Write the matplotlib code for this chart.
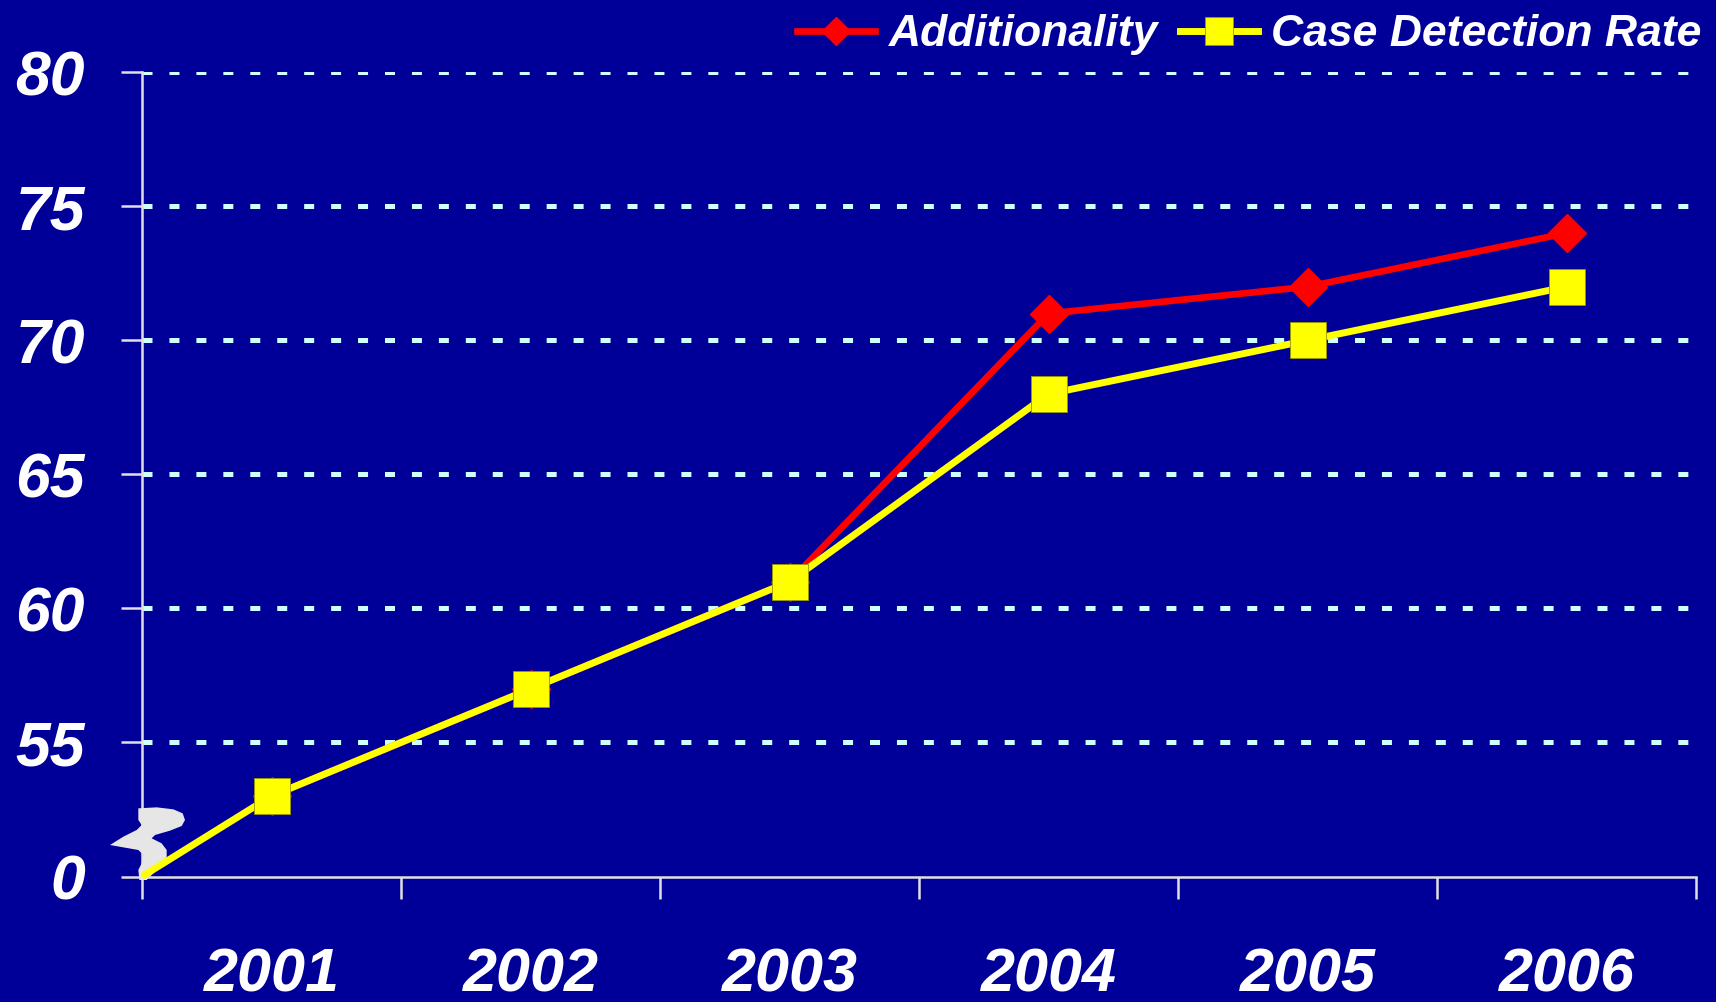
import matplotlib
matplotlib.use("Agg")
import matplotlib.pyplot as plt
from matplotlib.lines import Line2D
from matplotlib.patches import Polygon

# datos
years = ["2001", "2002", "2003", "2004", "2005", "2006"]
additionality = [53, 57, 61, 71, 72, 74]
case_detection = [53, 57, 61, 68, 70, 72]
y_ticks = [50, 55, 60, 65, 70, 75, 80]
y_tick_labels = ["0", "55", "60", "65", "70", "75", "80"]
y_min, y_max = 50, 80

bg = "#000099"
grid_col = "#CCFFFF"
axis_col = "#E0E0E0"

plt.rcParams["font.family"] = ["Liberation Sans", "DejaVu Sans"]
plt.rcParams["lines.scale_dashes"] = False

fig = plt.figure(figsize=(17.16, 10.02), dpi=100, facecolor=bg)
ax = fig.add_axes([142 / 1716, 1 - 876.5 / 1002, (1696 - 142) / 1716, (876.5 - 72.3) / 1002])
ax.set_facecolor(bg)

x = list(range(len(years)))

# lineas
ax.plot(x, additionality, color="#FF0000", lw=4.8, marker="D", ms=19.5,
        markeredgecolor="#FF0000", zorder=3)
ax.plot([x[0] - 0.5, x[0]], [y_min, case_detection[0]], color="#FFFF00", lw=5,
        zorder=5, solid_capstyle="butt", clip_on=False)
ax.plot(x, case_detection, color="#FFFF00", lw=5, marker="s", ms=26,
        markeredgecolor="#999900", markeredgewidth=0.6, zorder=5)

# ejes
ax.set_xlim(-0.5, len(years) - 0.5)
ax.set_ylim(y_min, y_max)
ax.set_xticks([i - 0.5 for i in range(len(years) + 1)])
ax.set_xticklabels([])
ax.set_xticks(x, minor=True)
ax.set_xticklabels(years, minor=True)
ax.set_yticks(y_ticks)
ax.set_yticklabels(y_tick_labels)

for s in ["top", "right"]:
    ax.spines[s].set_visible(False)
for s in ["left", "bottom"]:
    ax.spines[s].set_color(axis_col)
    ax.spines[s].set_linewidth(1.8)

ax.tick_params(axis="x", which="major", length=16, width=1.8, color=axis_col, direction="out")
ax.tick_params(axis="x", which="minor", length=0, pad=51, labelsize=44, labelcolor="white")
ax.tick_params(axis="y", length=15, width=1.8, color=axis_col, direction="out",
               pad=26, labelsize=45, labelcolor="white")
for lab in ax.get_xticklabels(minor=True) + ax.get_yticklabels():
    lab.set_fontweight("bold")
    lab.set_fontstyle("italic")

# rejilla
for v in y_ticks[1:]:
    ax.axhline(v, color=grid_col, lw=3.6, dashes=(7.2, 12.2), zorder=1)

# simbolo de corte del eje
brk = [(415, 325), (470, 322), (520, 328), (548, 340), (555, 360), (545, 378),
       (510, 392), (465, 405), (455, 415), (485, 430), (500, 450), (500, 472),
       (485, 490), (465, 500), (460, 520), (440, 540), (418, 540), (415, 510),
       (425, 490), (430, 465), (415, 450), (330, 435), (370, 410), (410, 390),
       (425, 375), (415, 360)]
pts = [(px / 3 / 100, (1002 - (py / 3 + 700)) / 100) for px, py in brk]
ax.add_patch(Polygon(pts, closed=True, facecolor="#E6E6E6", edgecolor="none",
                     transform=fig.dpi_scale_trans, zorder=4, clip_on=False))

# leyenda
handles = [
    Line2D([], [], color="#FF0000", lw=4.8, marker="D", ms=14.5, markeredgecolor="#FF0000"),
    Line2D([], [], color="#FFFF00", lw=5, marker="s", ms=20, markeredgecolor="#999900",
           markeredgewidth=0.6),
]
leg = fig.legend(handles, ["Additionality", "Case Detection Rate"], ncol=2,
                 loc="upper right", bbox_to_anchor=(1706 / 1716, 1 - 10 / 1002),
                 frameon=False, handlelength=1.75, handletextpad=0.3,
                 columnspacing=0.5, borderaxespad=0.0, borderpad=0.1,
                 prop={"size": 32, "weight": "bold", "style": "italic"})
for t in leg.get_texts():
    t.set_color("white")

fig.savefig("out.png", dpi=100, facecolor=bg)
